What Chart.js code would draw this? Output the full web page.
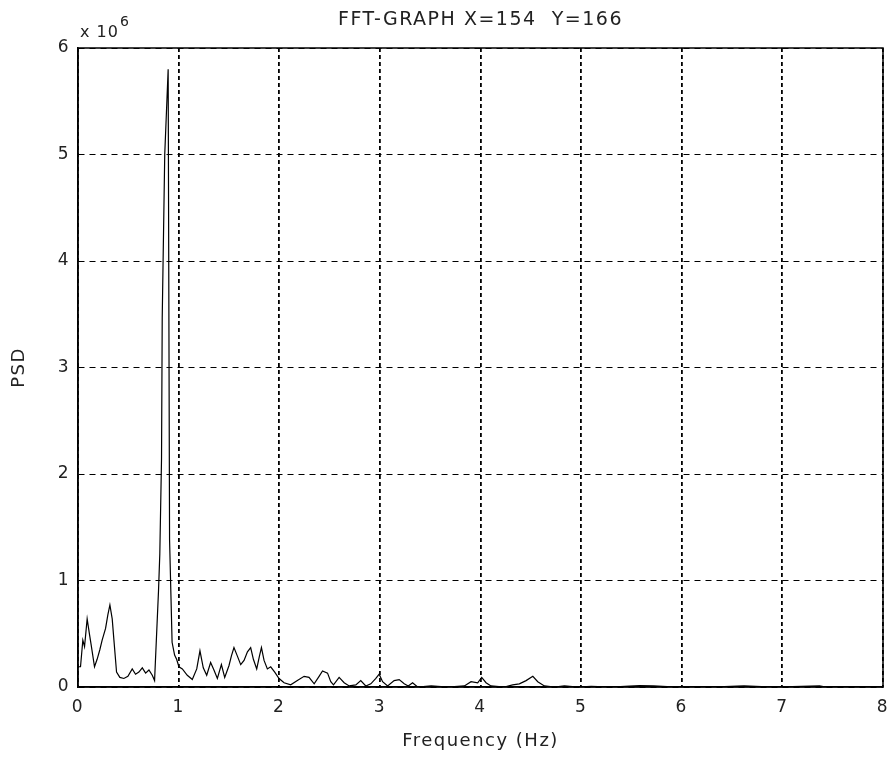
<!DOCTYPE html>
<html><head><meta charset="utf-8">
<script src="https://cdn.jsdelivr.net/npm/chart.js@4.4.0/dist/chart.umd.min.js"></script>
<style>html,body{margin:0;padding:0;background:#fff;} #wrap{width:892px;height:758px;}</style>
</head><body><div id="wrap"><canvas id="c" width="892" height="758"></canvas></div>
<script>
const titleText = 'FFT-GRAPH X=154  Y=166';
const xAxisLabel = 'Frequency (Hz)';
const yAxisLabel = 'PSD';
const yExponentBase = 'x 10';
const yExponent = '6';
const xTicks = [0, 1, 2, 3, 4, 5, 6, 7, 8];
const yTicks = [0, 1, 2, 3, 4, 5, 6];

// Frequency (Hz)
const frequency = [
  0.000, 0.025, 0.048, 0.065, 0.091, 0.115, 0.130, 0.164, 0.190, 0.217,
  0.240, 0.274, 0.297, 0.317, 0.340, 0.357, 0.383, 0.416, 0.456, 0.496,
  0.539, 0.572, 0.605, 0.639, 0.672, 0.705, 0.738, 0.761, 0.800, 0.813,
  0.830, 0.837, 0.862, 0.879, 0.896, 0.910, 0.935, 0.960, 0.980, 1.003,
  1.037, 1.086, 1.136, 1.180, 1.212, 1.245, 1.279, 1.318, 1.351, 1.385,
  1.425, 1.458, 1.500, 1.524, 1.550, 1.584, 1.617, 1.650, 1.684, 1.716,
  1.743, 1.776, 1.803, 1.823, 1.849, 1.882, 1.915, 1.955, 1.998, 2.048,
  2.114, 2.180, 2.247, 2.296, 2.347, 2.396, 2.430, 2.480, 2.512, 2.539,
  2.595, 2.645, 2.695, 2.761, 2.810, 2.860, 2.910, 2.960, 2.993, 3.027,
  3.077, 3.142, 3.192, 3.242, 3.282, 3.325, 3.375, 3.510, 3.674, 3.840,
  3.906, 3.972, 4.012, 4.055, 4.104, 4.237, 4.320, 4.386, 4.453, 4.520,
  4.569, 4.635, 4.734, 4.834, 4.967, 5.100, 5.300, 5.480, 5.580, 5.720,
  5.900, 6.100, 6.300, 6.550, 6.620, 6.850, 7.100, 7.370, 7.430
];
// PSD in units of 10^6
const psd = [
  0.19, 0.19, 0.44, 0.38, 0.64, 0.49, 0.40, 0.19, 0.26, 0.35,
  0.44, 0.55, 0.68, 0.77, 0.64, 0.44, 0.14, 0.09, 0.08, 0.10,
  0.17, 0.12, 0.14, 0.18, 0.13, 0.16, 0.11, 0.06, 0.90, 1.25,
  2.14, 3.47, 5.00, 5.40, 5.80, 1.38, 0.42, 0.30, 0.26, 0.19,
  0.17, 0.11, 0.07, 0.17, 0.34, 0.18, 0.11, 0.23, 0.16, 0.08,
  0.21, 0.09, 0.20, 0.29, 0.37, 0.29, 0.21, 0.25, 0.33, 0.37,
  0.26, 0.17, 0.29, 0.37, 0.25, 0.17, 0.19, 0.14, 0.08, 0.04,
  0.02, 0.06, 0.10, 0.09, 0.03, 0.10, 0.15, 0.13, 0.05, 0.02,
  0.09, 0.04, 0.01, 0.02, 0.06, 0.01, 0.03, 0.08, 0.12, 0.05,
  0.01, 0.06, 0.07, 0.03, 0.01, 0.04, 0.00, 0.01, 0.00, 0.01,
  0.05, 0.04, 0.09, 0.04, 0.01, 0.00, 0.02, 0.03, 0.06, 0.10,
  0.05, 0.01, 0.00, 0.01, 0.00, 0.005, 0.000, 0.008, 0.012, 0.010,
  0.002, 0.004, 0.000, 0.008, 0.010, 0.002, 0.003, 0.010, 0.000
];

const FONT = 'DejaVu Sans';
const points = frequency.map((f, i) => ({ x: f, y: psd[i] }));

const spacingPlugin = {
  id: 'spacing',
  beforeUpdate(chart) { chart.ctx.letterSpacing = '1.5px'; },
  beforeDraw(chart) { chart.ctx.letterSpacing = '1.5px'; }
};

const boxPlugin = {
  id: 'box',
  afterDraw(chart) {
    const { ctx, chartArea: a } = chart;
    ctx.save();
    ctx.setLineDash([]);
    ctx.strokeStyle = '#000';
    ctx.lineWidth = 1.5;
    ctx.strokeRect(a.left, a.top, a.right - a.left, a.bottom - a.top);
    ctx.fillStyle = '#222';
    ctx.textBaseline = 'alphabetic';
    ctx.textAlign = 'left';
    ctx.letterSpacing = '1px';
    ctx.font = '16px "' + FONT + '"';
    ctx.fillText(yExponentBase, a.left + 2, a.top - 11);
    const w = ctx.measureText(yExponentBase).width;
    ctx.font = '14px "' + FONT + '"';
    ctx.fillText(yExponent, a.left + 3 + w, a.top - 22);
    ctx.restore();
  }
};

new Chart(document.getElementById('c'), {
  type: 'line',
  data: {
    datasets: [{
      data: points,
      borderColor: '#000',
      borderWidth: 1.2,
      pointRadius: 0,
      tension: 0,
      fill: false
    }]
  },
  options: {
    responsive: false,
    animation: false,
    devicePixelRatio: 1,
    layout: { padding: { left: 0, right: 0, top: 0, bottom: 0 } },
    plugins: {
      legend: { display: false },
      tooltip: { enabled: false },
      title: { display: false }
    },
    scales: {
      x: {
        type: 'linear',
        position: 'bottom',
        min: 0, max: 8,
        afterBuildTicks(scale) { scale.ticks = xTicks.map(v => ({ value: v })); },
        afterFit(scale) { scale.height = 71; scale.paddingRight = 9; scale.paddingLeft = 0; },
        ticks: { color: '#222', padding: 10, font: { family: FONT, size: 17 }, maxRotation: 0,
                 callback: v => String(v) },
        grid: { color: '#000', lineWidth: 1.8, drawTicks: false },
        border: { display: true, color: '#000', width: 1.5, dash: [4, 3] },
        title: { display: true, text: xAxisLabel, color: '#222',
                 font: { family: FONT, size: 18, lineHeight: 1.2 }, padding: { top: 0, bottom: 6 } }
      },
      xTop: {
        type: 'linear',
        position: 'top',
        min: 0, max: 8,
        afterFit(scale) { scale.height = 48; scale.paddingRight = 9; scale.paddingLeft = 0; },
        ticks: { display: false },
        grid: { display: false, drawTicks: false },
        border: { display: false },
        title: { display: true, text: titleText, color: '#222',
                 font: { family: FONT, size: 19, lineHeight: 1.2 }, padding: { top: 9, bottom: 0 } }
      },
      y: {
        type: 'linear',
        min: 0, max: 6,
        afterBuildTicks(scale) { scale.ticks = yTicks.map(v => ({ value: v })); },
        afterFit(scale) { scale.width = 78; },
        ticks: { color: '#222', padding: 8, font: { family: FONT, size: 17 },
                 callback: v => String(v) },
        grid: { color: '#000', lineWidth: 1, drawTicks: false },
        border: { display: true, color: '#000', width: 1.5, dash: [6, 5] },
        title: { display: true, text: yAxisLabel, color: '#222',
                 font: { family: FONT, size: 18, lineHeight: 1.2 }, padding: { top: 9, bottom: 0 } }
      }
    }
  },
  plugins: [spacingPlugin, boxPlugin]
});
</script>
</body></html>
